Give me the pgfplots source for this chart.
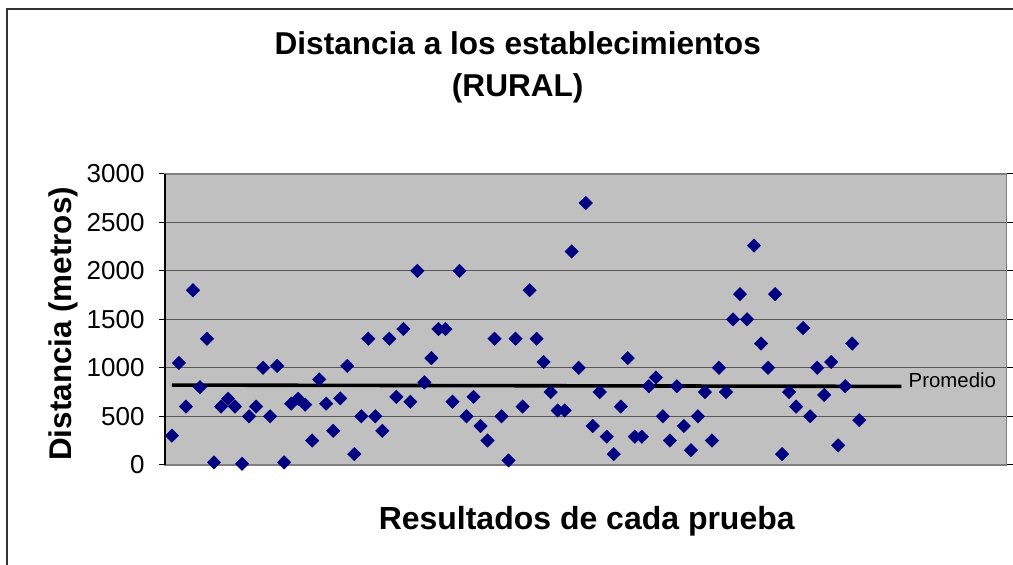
\documentclass[border=0pt]{standalone}
\usepackage{pgfplots}
\pgfplotsset{compat=1.18}
\usepackage{fontspec}
\setmainfont{Liberation Sans}
\definecolor{navy}{HTML}{000080}
\definecolor{silverbg}{HTML}{C0C0C0}
\definecolor{gridc}{HTML}{585858}
\definecolor{framec}{HTML}{808080}
\begin{document}
\begin{tikzpicture}
\begin{scope}[x=0.5pt,y=0.5pt]
\useasboundingbox (0,0) rectangle (1013,565);
\draw[line width=1pt, black!80] (7,0) -- (7,556) -- (1013,556);
\node[anchor=base, font=\bfseries\fontsize{15.8pt}{18pt}\selectfont] at (518,510) {Distancia a los establecimientos};
\node[anchor=base, font=\bfseries\fontsize{15.8pt}{18pt}\selectfont] at (518,468) {(RURAL)};
\node[anchor=base, font=\bfseries\fontsize{16pt}{18pt}\selectfont] at (587,35) {Resultados de cada prueba};
\node[anchor=base, rotate=90, font=\bfseries\fontsize{15.7pt}{18pt}\selectfont] at (72,241) {Distancia (metros)};
\end{scope}
\begin{axis}[
  at={(82.5pt,50pt)}, anchor=south west,
  width=421pt, height=145.5pt, scale only axis,
  xmin=0, xmax=120, ymin=0, ymax=3000,
  xtick=\empty,
  ytick={0,500,...,3000},
  /pgf/number format/assume math mode=true,
  /pgf/number format/1000 sep={},
  yticklabel style={font=\fontsize{13pt}{15pt}\selectfont, inner sep=0pt, xshift=-7pt},
  tick align=outside, major tick length=3pt,
  tick style={black, line width=0.5pt},
  ymajorgrids, major grid style={draw=gridc, line width=0.6pt},
  axis background/.style={fill=silverbg},
  axis line style={draw=framec, line width=0.8pt},
  clip=false,
]
\addplot[only marks, mark=square*, mark size=2.3pt, color=navy,
  every mark/.append style={rotate=45}] coordinates {
(1,300) (2,1050) (3,600) (4,1800) (5,800) (6,1300) (7,25) (8,600) (9,680) (10,600)
(11,10) (12,500) (13,600) (14,1000) (15,500) (16,1020) (17,25) (18,630) (19,680) (20,620)
(21,250) (22,880) (23,630) (24,350) (25,685) (26,1020) (27,110) (28,500) (29,1300) (30,500)
(31,350) (32,1300) (33,700) (34,1400) (35,650) (36,2000) (37,850) (38,1100) (39,1400) (40,1400)
(41,650) (42,2000) (43,500) (44,700) (45,400) (46,250) (47,1300) (48,500) (49,45) (50,1300)
(51,600) (52,1800) (53,1300) (54,1060) (55,750) (56,560) (57,560) (58,2200) (59,1000) (60,2700)
(61,400) (62,750) (63,290) (64,110) (65,600) (66,1100) (67,290) (68,290) (69,810) (70,900)
(71,500) (72,250) (73,810) (74,400) (75,150) (76,500) (77,750) (78,250) (79,1000) (80,750)
(81,1500) (82,1760) (83,1500) (84,2260) (85,1250) (86,1000) (87,1760) (88,110) (89,750) (90,600)
(91,1410) (92,500) (93,1000) (94,720) (95,1060) (96,200) (97,810) (98,1250) (99,460)
};
\addplot[black, line width=1.8pt] coordinates {(1,822) (105,808)};
\node[anchor=west, font=\fontsize{10.2pt}{12pt}\selectfont, inner sep=0pt] at (axis cs:106,870) {Promedio};
\draw[black, line width=0.8pt] (axis cs:0,0) -- (axis cs:0,3000);
\end{axis}
\end{tikzpicture}
\end{document}
